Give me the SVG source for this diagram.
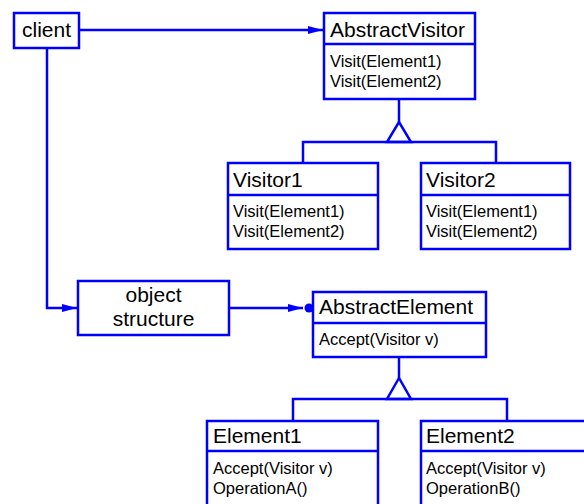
<svg xmlns="http://www.w3.org/2000/svg" width="584" height="504" viewBox="0 0 584 504">
<style>
.box{fill:#fff;stroke:#0000ff;stroke-width:2.5}
.ln{fill:none;stroke:#0000ff;stroke-width:2.5}
.t{font-family:"Liberation Sans",Arial,sans-serif;font-size:21px;fill:#000}
.m{font-family:"Liberation Sans",Arial,sans-serif;font-size:16.5px;fill:#000}
.c{text-anchor:middle}
</style>
<defs>
<marker id="arr" markerWidth="15" markerHeight="8" refX="15" refY="4" orient="auto" markerUnits="userSpaceOnUse">
<path d="M0,0 L15,4 L0,8 Z" fill="#0000ff"/>
</marker>
</defs>
<rect width="584" height="504" fill="#fff"/>
<g id="connectors">
<line class="ln" x1="79" y1="30" x2="323" y2="30" marker-end="url(#arr)"/>
<polyline class="ln" points="47,49 47,308 77,308" marker-end="url(#arr)"/>
<line class="ln" x1="229" y1="308" x2="303" y2="308" marker-end="url(#arr)"/>
<circle cx="309" cy="308" r="4.5" fill="#0000ff"/>
<line class="ln" x1="399" y1="99" x2="399" y2="122"/>
<polygon class="ln" points="399,122 387,142 411,142"/>
<polyline class="ln" points="303,163 303,142 496,142 496,163"/>
<line class="ln" x1="399" y1="357" x2="399" y2="378"/>
<polygon class="ln" points="399,378 387,399 411,399"/>
<polyline class="ln" points="293,421 293,399 507,399 507,421"/>
</g>
<g id="client">
<rect class="box" x="14" y="13" width="65" height="35"/>
<text class="t" x="22" y="37">client</text>
</g>
<g id="AbstractVisitor">
<rect class="box" x="324" y="13" width="151" height="86"/>
<line class="ln" x1="324" y1="44" x2="475" y2="44"/>
<text class="t" x="330" y="37">AbstractVisitor</text>
<text class="m" x="330" y="67">Visit(Element1)</text>
<text class="m" x="330" y="87">Visit(Element2)</text>
</g>
<g id="Visitor1">
<rect class="box" x="228" y="163" width="150" height="86"/>
<line class="ln" x1="228" y1="195" x2="378" y2="195"/>
<text class="t" x="233" y="187">Visitor1</text>
<text class="m" x="233" y="217">Visit(Element1)</text>
<text class="m" x="233" y="237">Visit(Element2)</text>
</g>
<g id="Visitor2">
<rect class="box" x="421" y="163" width="149" height="86"/>
<line class="ln" x1="421" y1="195" x2="570" y2="195"/>
<text class="t" x="426" y="187">Visitor2</text>
<text class="m" x="426" y="217">Visit(Element1)</text>
<text class="m" x="426" y="237">Visit(Element2)</text>
</g>
<g id="objectStructure">
<rect class="box" x="78" y="281" width="151" height="54"/>
<text class="t c" x="153.5" y="302">object</text>
<text class="t c" x="153.5" y="326">structure</text>
</g>
<g id="AbstractElement">
<rect class="box" x="313" y="292" width="173" height="65"/>
<line class="ln" x1="313" y1="323" x2="486" y2="323"/>
<text class="t" x="319" y="314">AbstractElement</text>
<text class="m" x="319" y="345">Accept(Visitor v)</text>
</g>
<g id="Element1">
<rect class="box" x="207" y="421" width="171" height="95"/>
<line class="ln" x1="207" y1="451" x2="378" y2="451"/>
<text class="t" x="213" y="443">Element1</text>
<text class="m" x="213" y="474">Accept(Visitor v)</text>
<text class="m" x="213" y="494">OperationA()</text>
</g>
<g id="Element2">
<rect class="box" x="421" y="421" width="180" height="95"/>
<line class="ln" x1="421" y1="451" x2="601" y2="451"/>
<text class="t" x="426" y="443">Element2</text>
<text class="m" x="426" y="474">Accept(Visitor v)</text>
<text class="m" x="426" y="494">OperationB()</text>
</g>
</svg>
